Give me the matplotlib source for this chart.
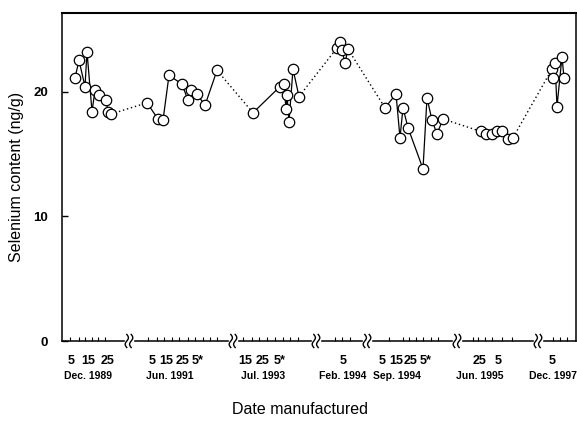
import numpy as np
import matplotlib
matplotlib.use("Agg")
import matplotlib.pyplot as plt

plt.rcParams['font.family'] = ['Liberation Sans', 'DejaVu Sans']

# positions along the broken date axis (axis units) and selenium (ng/g), one list per period
seg_x = [
    [75, 79, 85, 87, 92, 95, 99, 106, 108, 111],
    [147, 158, 163, 169, 182, 188, 191, 197, 205, 217],
    [253, 280, 284, 286, 287, 289, 293, 299],
    [337, 340, 342, 345, 348],
    [385, 396, 400, 403, 408, 423, 427, 432, 437, 443],
    [481, 486, 492, 497, 502, 508, 513],
    [552, 553, 555, 557, 562, 564],
]
seg_y = [
    [21.1, 22.5, 20.4, 23.2, 18.4, 20.1, 19.7, 19.3, 18.4, 18.2],
    [19.1, 17.8, 17.7, 21.3, 20.6, 19.3, 20.1, 19.8, 18.9, 21.7],
    [18.3, 20.4, 20.6, 18.6, 19.7, 17.6, 21.8, 19.6],
    [23.5, 24.0, 23.3, 22.3, 23.4],
    [18.7, 19.8, 16.3, 18.7, 17.1, 13.8, 19.5, 17.7, 16.6, 17.8],
    [16.8, 16.6, 16.6, 16.8, 16.8, 16.2, 16.3],
    [21.8, 21.1, 22.3, 18.8, 22.8, 21.1],
]

tick_pos = [71, 88, 108, 152, 166, 183, 198, 245, 263, 280, 343,
            382, 396, 411, 426, 480, 498, 552]
tick_lab = ['5', '15', '25', '5', '15', '25', '5*', '15', '25', '5*', '5',
            '5', '15', '25', '5*', '25', '5', '5']
minor_pos = [70, 79, 85, 92, 98, 105,
             148, 157, 164, 172, 179, 188, 195, 203, 210, 217,
             243, 252, 259, 267, 275, 283, 290, 298,
             335, 342, 350,
             382, 389, 396, 403, 409, 416, 423, 431, 438,
             473, 478, 485, 492, 502, 512,
             553, 560, 567]
month_pos = [88, 170, 263, 343, 397, 480, 553]
month_lab = ['Dec. 1989', 'Jun. 1991', 'Jul. 1993', 'Feb. 1994',
             'Sep. 1994', 'Jun. 1995', 'Dec. 1997']
break_pos = [129, 233, 316, 367, 457, 538]

fig = plt.figure(figsize=(5.77, 4.24), dpi=100)
ax = fig.add_axes([62 / 577, 1 - 341 / 424, 514 / 577, 328 / 424])

# dotted links between periods
for i in range(len(seg_x) - 1):
    ax.plot([seg_x[i][-1], seg_x[i + 1][0]], [seg_y[i][-1], seg_y[i + 1][0]],
            ls=(0, (1, 2)), color='k', lw=1.0, zorder=1)

for xs, ys in zip(seg_x, seg_y):
    ax.plot(xs, ys, '-', color='k', lw=0.9, marker='o', ms=7.5,
            mfc='white', mec='k', mew=0.9, zorder=2)

ax.set_xlim(62, 576)
ax.set_ylim(0, 26.3)

ax.set_yticks([0, 10, 20])
ax.set_yticklabels(['0', '10', '20'], fontsize=9.5, fontweight='bold')
ax.tick_params(axis='y', direction='in', length=4, width=1, pad=10)

ax.set_xticks(tick_pos)
ax.set_xticklabels(tick_lab, fontsize=9, fontweight='bold')
ax.set_xticks(minor_pos, minor=True)
ax.tick_params(axis='x', which='major', length=0, pad=10)
ax.tick_params(axis='x', which='minor', direction='in', length=3, width=0.8)

for s in ax.spines.values():
    s.set_linewidth(1.1)
ax.spines['top'].set_linewidth(1.5)

trans = ax.get_xaxis_transform()
for xp, lab in zip(month_pos, month_lab):
    ax.text(xp, -0.107, lab, transform=trans, ha='center', va='center',
            fontsize=7.5, fontweight='bold')

# axis break marks
t = np.linspace(-1, 1, 40)
for xb in break_pos:
    ax.fill_between([xb - 4, xb + 4], -0.008, 0.008, transform=trans,
                    color='white', clip_on=False, zorder=5)
    for off in (-2.2, 2.2):
        ax.plot(xb + off + 1.6 * np.sin(np.pi * t), 0.02 * t, transform=trans,
                color='k', lw=1.0, clip_on=False, zorder=6)

ax.set_ylabel('Selenium content (ng/g)', fontsize=11.5)
ax.yaxis.set_label_coords(-0.074, 0.5)
ax.set_xlabel('Date manufactured', fontsize=11.5)
ax.xaxis.set_label_coords((300 - 62) / 514, -0.185)

fig.savefig('out.png', dpi=100)
